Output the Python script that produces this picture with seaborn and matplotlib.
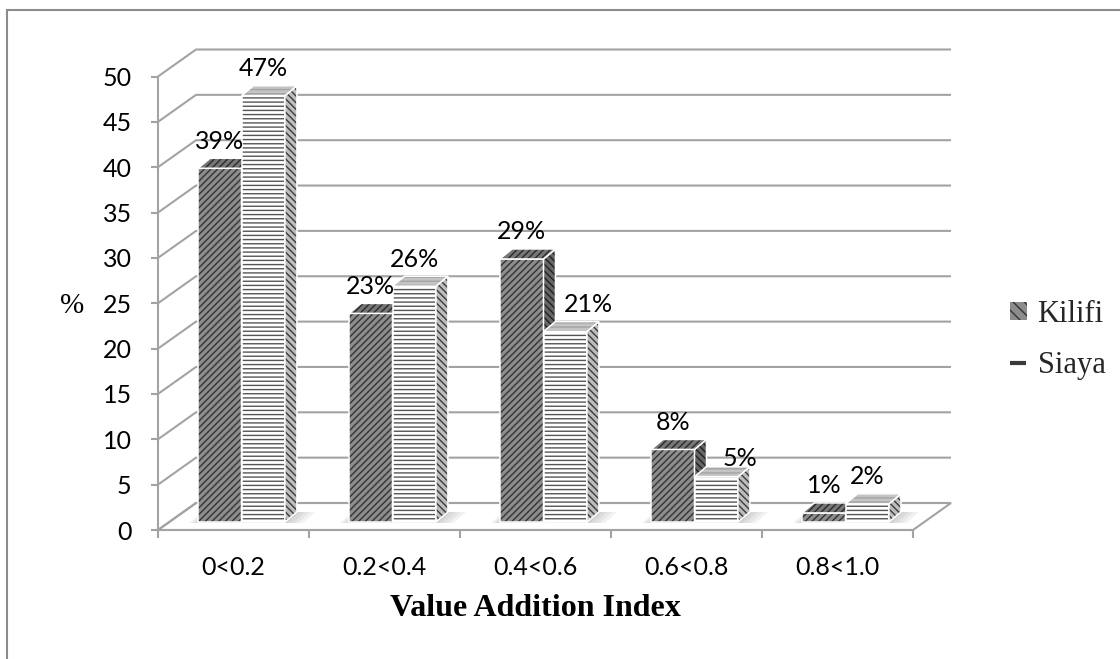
import matplotlib
matplotlib.use("Agg")
import matplotlib.pyplot as plt
import numpy as np
import pandas as pd
import seaborn as sns
from matplotlib.patches import Polygon, Rectangle, Patch
from matplotlib.lines import Line2D

# ---- data -------------------------------------------------------------
categories = ["0<0.2", "0.2<0.4", "0.4<0.6", "0.6<0.8", "0.8<1.0"]
counties = ["Kilifi", "Siaya"]
kilifi = [39, 23, 29, 8, 1]
siaya = [47, 26, 21, 5, 2]
y_ticks = [0, 5, 10, 15, 20, 25, 30, 35, 40, 45, 50]
x_title = "Value Addition Index"
y_title = "%"

# ---- look ---------------------------------------------------------------
sns.set_theme(style="white")
plt.rcParams["font.family"] = ["Lato", "DejaVu Sans"]
plt.rcParams["hatch.linewidth"] = 1.0
SERIF = ["Liberation Serif", "DejaVu Serif"]
GRID = "#a3a3a3"
LABEL_SIZE = 18

W, H = 1120, 659
fig = plt.figure(figsize=(W / 100, H / 100), dpi=100)
fig.patch.set_facecolor("white")

# front plane of the plotting box, in pixels
left_px, right_px, base_px, top_px = 158, 913, 530, 76.5
ax = fig.add_axes([left_px / W, 1 - base_px / H,
                   (right_px - left_px) / W, (base_px - top_px) / H])
ax.set_xlim(-0.5, len(categories) - 0.5)
ax.set_ylim(0, 50)
ax.set_facecolor("none")

px_x = (right_px - left_px) / len(categories)
px_y = (base_px - top_px) / 50.0


def dx(p):
    return p / px_x


def dy(p):
    return p / px_y


wall_dx, wall_dy = dx(38), dy(27)     # depth of the floor / back wall
bar_sx, bar_sy = dx(8), dy(8)         # bars sit a little behind the front edge
bar_dx, bar_dy = dx(12), dy(10)       # depth of each bar

df = pd.DataFrame({
    "Index": categories * 2,
    "County": [counties[0]] * len(kilifi) + [counties[1]] * len(siaya),
    "Percent": kilifi + siaya,
})

sns.barplot(data=df, x="Index", y="Percent", hue="County", order=categories,
            hue_order=counties, width=0.575, palette=["#8c8c8c", "white"],
            saturation=1, legend=False, ax=ax)

# ---- floor, walls and grid -------------------------------------------
x_lo, x_hi = ax.get_xlim()
floor = Polygon([(x_lo, 0), (x_hi, 0), (x_hi + wall_dx, wall_dy),
                 (x_lo + wall_dx, wall_dy)], closed=True, facecolor="white",
                edgecolor=GRID, lw=1.5, zorder=0.5, clip_on=False)
ax.add_patch(floor)
for t in y_ticks:
    ax.plot([x_lo, x_lo + wall_dx, x_hi + wall_dx], [t, t + wall_dy, t + wall_dy],
            color=GRID, lw=1.5, zorder=1, clip_on=False, solid_capstyle="butt")

# ---- 3-D bars ---------------------------------------------------------
style = {
    "Kilifi": dict(front=("#8c8c8c", "#333333", "/////"),
                   side=("#666666", "#222222", "\\\\\\\\\\"),
                   top=("#767676", "#2a2a2a", "/////")),
    "Siaya": dict(front=("white", "#555555", "----"),
                  side=("#bdbdbd", "#3c3c3c", "\\\\\\\\\\"),
                  top=("#c4c4c4", "#a4a4a4", "----")),
}
values = {"Kilifi": kilifi, "Siaya": siaya}
# labels that are pushed aside, in points
label_nudge = {("Siaya", 2): (17, 19.5), ("Siaya", 3): (17, 13)}


def face(verts, fc, hc, hatch, z):
    ax.add_patch(Polygon(verts, closed=True, facecolor=fc, edgecolor=hc,
                         hatch=hatch, lw=0, zorder=z, clip_on=False))
    ax.add_patch(Polygon(verts, closed=True, fill=False, edgecolor="white",
                         lw=1.1, zorder=z + 0.01, clip_on=False))


bars = [p for p in ax.patches if isinstance(p, Rectangle) and p is not floor]
groups = {}
for p in bars:
    cx = p.get_x() + p.get_width() / 2
    cat = int(round(cx))
    county = "Kilifi" if cx < cat else "Siaya"
    groups.setdefault(cat, {})[county] = p

for cat, pair in groups.items():
    # soft shadow on the floor around the pair
    gx0 = pair["Kilifi"].get_x() + bar_sx
    gx1 = pair["Siaya"].get_x() + pair["Siaya"].get_width() + bar_sx
    for k in range(4):
        e = 3 + 5 * k
        sh = [(gx0 - dx(e * 0.5), bar_sy - dy(1)), (gx1 + dx(e), bar_sy - dy(1)),
              (gx1 + dx(e) + bar_dx, bar_sy + bar_dy),
              (gx0 - dx(e * 0.5) + bar_dx, bar_sy + bar_dy)]
        ax.add_patch(Polygon(sh, closed=True, facecolor="#5a5a5a", lw=0,
                             alpha=0.08, zorder=1.5, clip_on=False))

    for ci, county in enumerate(counties):
        p = pair[county]
        st = style[county]
        z = 3 + ci
        p.set_x(p.get_x() + bar_sx)
        p.set_y(p.get_y() + bar_sy)
        x0, y0 = p.get_x(), p.get_y()
        x1, y1 = x0 + p.get_width(), y0 + p.get_height()
        fc, hc, hatch = st["front"]
        p.set_facecolor(fc)
        p.set_edgecolor(hc)
        p.set_hatch(hatch)
        p.set_linewidth(0)
        p.set_zorder(z)
        p.set_clip_on(False)
        ax.add_patch(Rectangle((x0, y0), x1 - x0, y1 - y0, fill=False,
                               edgecolor="white", lw=1.1, zorder=z + 0.01,
                               clip_on=False))
        face([(x1, y0), (x1 + bar_dx, y0 + bar_dy), (x1 + bar_dx, y1 + bar_dy),
              (x1, y1)], *st["side"], z + 0.02)
        face([(x0, y1), (x1, y1), (x1 + bar_dx, y1 + bar_dy),
              (x0 + bar_dx, y1 + bar_dy)], *st["top"], z + 0.04)

        v = values[county][cat]
        ox, oy = label_nudge.get((county, cat), (0, 19.5))
        ax.annotate(f"{v}%", xy=((x0 + x1) / 2, y0 + v), xytext=(ox, oy),
                    textcoords="offset points", ha="center", va="center",
                    fontsize=LABEL_SIZE, color="black", zorder=10,
                    annotation_clip=False)

# ---- axes -------------------------------------------------------------
sns.despine(ax=ax, top=True, right=True)
for side in ("left", "bottom"):
    ax.spines[side].set_color(GRID)
    ax.spines[side].set_linewidth(1.5)
    ax.spines[side].set_zorder(2)
ax.set_yticks(y_ticks)
ax.set_yticklabels([str(t) for t in y_ticks])
ax.tick_params(axis="y", which="major", length=5, width=1.5, color=GRID,
               labelsize=LABEL_SIZE, pad=14, left=True, labelcolor="black")
ax.set_xticks(range(len(categories)))
ax.set_xticklabels(categories)
ax.set_xticks(np.arange(x_lo, x_hi + 0.01, 1.0), minor=True)
ax.tick_params(axis="x", which="major", length=0, labelsize=LABEL_SIZE, pad=19,
               labelcolor="black")
ax.tick_params(axis="x", which="minor", length=6, width=1.5, color=GRID,
               bottom=True)
ax.grid(False)

ax.set_xlabel(x_title, family=SERIF, fontsize=23, fontweight="bold",
              color="black", va="center")
ax.xaxis.set_label_coords(0.5, (base_px - 609) / (base_px - top_px))
ax.set_ylabel(y_title, family=SERIF, fontsize=21, rotation=0, color="black",
              ha="center", va="center")
ax.yaxis.set_label_coords((72 - left_px) / (right_px - left_px),
                          (base_px - 306) / (base_px - top_px))

# ---- legend -----------------------------------------------------------
handles = [
    Patch(facecolor="#8c8c8c", edgecolor="#333333", hatch="\\\\\\", lw=0),
    Line2D([], [], marker="_", markersize=11, markeredgewidth=3,
           color="#3a3a3a", linestyle=""),
]
leg = fig.legend(handles, counties, loc="center left",
                 bbox_to_anchor=(1010 / W, 1 - 340 / H),
                 bbox_transform=fig.transFigure, frameon=False,
                 prop={"family": SERIF, "size": 22}, handlelength=0.55,
                 handleheight=0.55, handletextpad=0.35, labelspacing=0.75,
                 borderpad=0, borderaxespad=0)

# keep the legend's left edge where intended
fig.canvas.draw()
bb = leg.get_window_extent()
shift = 1010 - bb.x0
leg.set_bbox_to_anchor(((1010 + shift) / W, 1 - 340 / H), transform=fig.transFigure)

# ---- outer frame ------------------------------------------------------
fig.add_artist(Rectangle((7 / W, -1), 2, (1 - 10 / H) + 1,
                         transform=fig.transFigure, fill=False,
                         edgecolor="#8c8c8c", lw=1.5))

fig.savefig("out.png", dpi=100)
